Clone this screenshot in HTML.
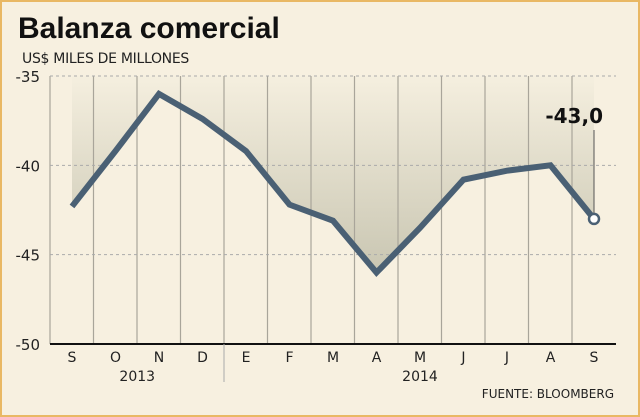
<!DOCTYPE html>
<html><head><meta charset="utf-8"><style>
body{margin:0;background:#fff}
#c{position:relative;width:640px;height:417px;box-sizing:border-box;border:2px solid #e9b864;background:#f7f0e0;font-family:"DejaVu Sans","Liberation Sans",sans-serif;overflow:hidden}
</style></head><body>
<div id="c">
<svg width="640" height="417" style="position:absolute;left:-2px;top:-2px">
<defs><linearGradient id="g" x1="0" y1="0" x2="0" y2="1">
<stop offset="0" stop-color="#f5efdf"/><stop offset="1" stop-color="#c9c6b2"/></linearGradient></defs>
<text x="18" y="38" font-size="30" font-weight="bold" fill="#111" font-family="Liberation Sans, sans-serif">Balanza comercial</text>
<text x="22" y="63" font-size="14" fill="#222" style="letter-spacing:-0.3px">US$ MILES DE MILLONES</text>
<g id="plot"></g>
<text x="614" y="398" font-size="12" fill="#222" text-anchor="end">FUENTE: BLOOMBERG</text>
</svg>
</div>
<script>
const categories=["S","O","N","D","E","F","M","A","M","J","J","A","S"];
const values=[-42.3,-39.2,-36.0,-37.4,-39.2,-42.2,-43.1,-46.0,-43.5,-40.8,-40.3,-40.0,-43.0];
const yTicks=[-35,-40,-45,-50];
const years=[{label:"2013",from:0,to:3},{label:"2014",from:4,to:12}];
const lastLabel="-43,0";
const NS="http://www.w3.org/2000/svg";
const g=document.getElementById("plot");
const L=50,R=616,T=76,B=344,step=43.5;
const x=i=>72+i*step;
const y=v=>T+(-35-v)/15*(B-T);
function mk(t,a,p){const e=document.createElementNS(NS,t);for(const k in a)e.setAttribute(k,a[k]);(p||g).appendChild(e);return e;}
let d="M"+x(0)+","+T;values.forEach((v,i)=>d+=" L"+x(i)+","+y(v));d+=" L"+x(values.length-1)+","+T+" Z";
const area=mk("path",{d:d,fill:"url(#g)"});


for(let k=0;k<categories.length;k++){const gx=L+k*step;const ln=mk("line",{x1:gx,y1:T,x2:gx,y2:B,stroke:"#a9a59a","stroke-width":1.2});

}
yTicks.forEach(t=>{const yy=y(t);
if(t!==-50){const ln=mk("line",{x1:L,y1:yy,x2:R,y2:yy,stroke:"#aaa","stroke-dasharray":"3,3"});

}
const tx=mk("text",{x:40,y:yy+6,"font-size":15,"text-anchor":"end",fill:"#222"});tx.textContent=t;

});
const ax=mk("line",{x1:L,y1:B,x2:R,y2:B,stroke:"#111","stroke-width":2});


categories.forEach((c,i)=>{const tx=mk("text",{x:x(i),y:362,"font-size":14,"text-anchor":"middle",fill:"#222"});tx.textContent=c;

});
years.forEach(yr=>{const tx=mk("text",{x:(x(yr.from)+x(yr.to))/2,y:381,"font-size":14,"text-anchor":"middle",fill:"#222"});tx.textContent=yr.label;

});
const sep=mk("line",{x1:L+4*step,y1:B,x2:L+4*step,y2:382,stroke:"#aaa"});


const pl=mk("polyline",{points:values.map((v,i)=>x(i)+","+y(v)).join(" "),fill:"none",stroke:"#4a6074","stroke-width":6,"stroke-linejoin":"miter"});


const li=values.length-1;
const ld=mk("line",{x1:x(li),y1:130,x2:x(li),y2:y(values[li]),stroke:"#555"});


const dot=mk("circle",{cx:x(li),cy:y(values[li]),r:5,fill:"#fff",stroke:"#4a6074","stroke-width":2.5});


const lab=mk("text",{x:x(li)+9,y:123,"font-size":20,"font-weight":"bold","text-anchor":"end",fill:"#111"});lab.textContent=lastLabel;


</script>
</body></html>
